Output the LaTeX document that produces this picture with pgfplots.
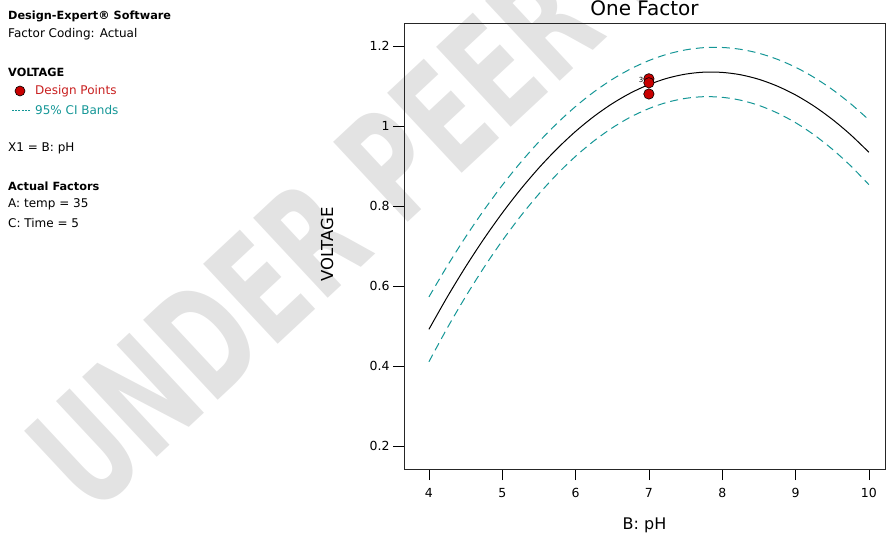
\documentclass[border=0pt]{standalone}
\usepackage{pgfplots}
\pgfplotsset{compat=1.18}
\usepackage{fontspec}
\setmainfont{DejaVu Sans}
\definecolor{ciband}{RGB}{20,150,150}
\definecolor{ptred}{RGB}{200,0,0}
\definecolor{txtred}{RGB}{200,30,30}

\begin{document}
\begin{tikzpicture}
\useasboundingbox (0pt,0pt) rectangle (886pt,538pt);
% watermark
\node[rotate=43, xscale=0.66, text=gray!22, font=\fontsize{150}{150}\selectfont\bfseries, anchor=base west, inner sep=0] at (92pt,20pt) {UNDER PEER REVIEW};

% side notes
\begin{scope}[every node/.style={anchor=west, inner sep=0, font=\fontsize{12}{14}\selectfont}]
\node[font=\fontsize{11.3}{13}\selectfont\bfseries] at (8pt,522pt) {Design-Expert® Software};
\node at (8pt,504pt) {Factor Coding: Actual};
\node[font=\fontsize{11.3}{13}\selectfont\bfseries] at (8pt,466pt) {VOLTAGE};
\fill[ptred, draw=black, line width=0.6pt] (20pt,447pt) circle (5pt);
\node[text=txtred] at (35pt,447pt) {Design Points};
\draw[ciband, line width=0.8pt, dash pattern=on 2pt off 1.2pt] (12pt,428pt) -- (31pt,428pt);
\node[text=ciband] at (35pt,428pt) {95\% CI Bands};
\node at (8pt,390pt) {X1 = B: pH};
\node[font=\fontsize{11.3}{13}\selectfont\bfseries] at (8pt,352pt) {Actual Factors};
\node at (8pt,334pt) {A: temp = 35};
\node at (8pt,315pt) {C: Time = 5};
\end{scope}

\begin{axis}[
    at={(404pt,69pt)}, anchor=south west,
    scale only axis,
    width=481pt, height=445pt,
    xmin=3.66, xmax=10.22,
    ymin=0.1425, ymax=1.255,
    xtick={4,5,6,7,8,9,10},
    ytick={0.2,0.4,0.6,0.8,1,1.2},
    xtick pos=bottom, ytick pos=left,
    tick align=outside,
    major tick length=11pt,
    tick style={black, line width=0.6pt},
    axis line style={line width=1pt, black!85},
    /pgf/number format/assume math mode=true,
    ticklabel style={font=\fontsize{12.5}{14}\selectfont},
    xticklabel style={yshift=-5pt},
    title={One Factor},
    title style={font=\fontsize{20}{22}\selectfont, at={(axis description cs:0.5,1)}, anchor=south, inner sep=2pt},
    xlabel={B: pH},
    xlabel style={font=\fontsize{16}{18}\selectfont, at={(axis description cs:0.5,-0.126)}, anchor=center},
    ylabel={VOLTAGE},
    ylabel style={font=\fontsize{16.5}{18}\selectfont, at={(axis description cs:-0.16,0.505)}, anchor=center},
]
% 95% CI upper
\addplot[ciband, line width=1pt, dash pattern=on 8pt off 5pt, smooth] coordinates {
(4,0.5727) (4.25,0.6501) (4.5,0.7225) (4.75,0.7897) (5,0.8518) (5.25,0.9087)
(5.5,0.9605) (5.75,1.0072) (6,1.0488) (6.25,1.0852) (6.5,1.1165) (6.75,1.1426)
(7,1.1636) (7.25,1.1795) (7.5,1.1903) (7.75,1.1959) (8,1.1963) (8.25,1.1917)
(8.5,1.1819) (8.75,1.1669) (9,1.1469) (9.25,1.1217) (9.5,1.0914) (9.75,1.0559) (10,1.0154)
};
% 95% CI lower
\addplot[ciband, line width=1pt, dash pattern=on 8pt off 5pt, smooth] coordinates {
(4,0.4107) (4.25,0.4949) (4.5,0.5733) (4.75,0.6461) (5,0.7132) (5.25,0.7745)
(5.5,0.8301) (5.75,0.8800) (6,0.9242) (6.25,0.9626) (6.5,0.9953) (6.75,1.0224)
(7,1.0436) (7.25,1.0593) (7.5,1.0691) (7.75,1.0733) (8,1.0717) (8.25,1.0645)
(8.5,1.0515) (8.75,1.0327) (9,1.0083) (9.25,0.9781) (9.5,0.9422) (9.75,0.9007) (10,0.8534)
};
% prediction
\addplot[black, line width=1pt, smooth] coordinates {
(4,0.4917) (4.25,0.5725) (4.5,0.6479) (4.75,0.7179) (5,0.7825) (5.25,0.8416)
(5.5,0.8953) (5.75,0.9436) (6,0.9865) (6.25,1.0239) (6.5,1.0559) (6.75,1.0825)
(7,1.1036) (7.25,1.1194) (7.5,1.1297) (7.75,1.1346) (8,1.1340) (8.25,1.1281)
(8.5,1.1167) (8.75,1.0998) (9,1.0776) (9.25,1.0499) (9.5,1.0168) (9.75,0.9783) (10,0.9344)
};
% design points
\addplot[only marks, mark=*, mark size=5.2pt, mark options={fill=ptred, draw=black, line width=0.6pt}] coordinates {
(7,1.118) (7,1.108) (7,1.080)
};
\node[font=\fontsize{7}{7}\selectfont, anchor=east, inner sep=1pt] at (axis cs:6.94,1.116) {3};
\end{axis}
\end{tikzpicture}
\end{document}
